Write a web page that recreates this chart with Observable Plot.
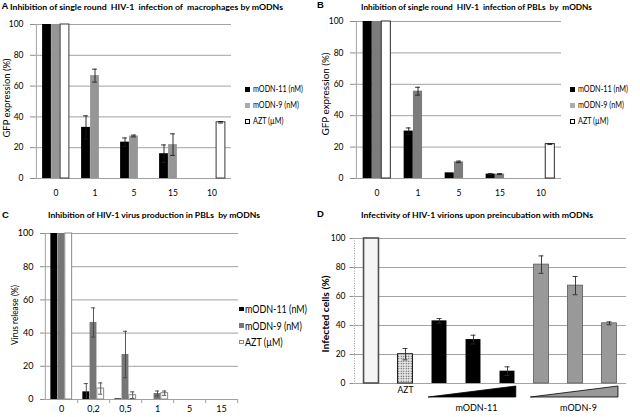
<!DOCTYPE html>
<html><head><meta charset="utf-8">
<script src="https://cdn.jsdelivr.net/npm/d3@7"></script>
<script src="https://cdn.jsdelivr.net/npm/@observablehq/plot@0.6"></script>
<style>
html,body{margin:0;padding:0;background:#fff;}
#fig{position:relative;width:640px;height:417px;overflow:hidden;font-family:Lato,"Liberation Sans",sans-serif;color:#000;}
.panel{position:absolute;}
.panel svg{display:block;overflow:visible;}
.t{position:absolute;white-space:pre;line-height:1;color:#000;}
.sw{position:absolute;box-sizing:border-box;}
svg [aria-label="y-axis"] .tick line{stroke:#8c8c8c;}
svg [aria-label="y-axis tick"]{stroke:#8c8c8c;}
</style></head><body><div id="fig"></div>
<script>
// ---------- DATA ----------
const yTicks = [0, 20, 40, 60, 80, 100];
const seriesNames = ["mODN-11 (nM)", "mODN-9 (nM)", "AZT (µM)"];

// Panel A
const catsA = ["0", "1", "5", "15", "10"];
const a_mODN11 = [100, 33.2, 23.6, 16.1, null];
const a_mODN11_err = [0, 7.5, 2.7, 5.7, null];
const a_mODN9 = [100, 66.8, 27.6, 22.0, null];
const a_mODN9_err = [0, 4.2, 0.6, 7.0, null];
const a_AZT = [100, null, null, null, 36.5];
const a_AZT_err = [0, null, null, null, 0.5];

// Panel B
const catsB = ["0", "1", "5", "15", "10"];
const b_mODN11 = [100, 30.2, 3.6, 2.8, null];
const b_mODN11_err = [0, 2.0, 0, 0.3, null];
const b_mODN9 = [100, 55.6, 10.6, 2.8, null];
const b_mODN9_err = [0, 2.5, 0.5, 0.3, null];
const b_AZT = [100, null, null, null, 21.9];
const b_AZT_err = [0, null, null, null, 0.3];

// Panel C
const catsC = ["0", "0,2", "0,5", "1", "5", "15"];
const c_mODN11 = [100, 4.6, 0.4, 0, 0, 0];
const c_mODN11_err = [0, 5.0, 0, 0, 0, 0];
const c_mODN9 = [100, 46.4, 27.1, 3.6, 0, 0];
const c_mODN9_err = [0, 8.8, 14.0, 1.5, 0, 0];
const c_AZT = [100, 6.6, 2.6, 3.8, 0, 0];
const c_AZT_err = [0, 3.4, 2.0, 1.3, 0, 0];

// Panel D
const dBars = ["control", "AZT", "m11-1", "m11-2", "m11-3", "m9-1", "m9-2", "m9-3"];
const dGroups = ["control", "AZT", "mODN-11", "mODN-11", "mODN-11", "mODN-9", "mODN-9", "mODN-9"];
const dValues = [100, 20.2, 43.2, 30.3, 8.5, 82.0, 67.5, 41.5];
const dErrs = [0, 3.9, 1.6, 3.0, 3.0, 6.0, 6.3, 1.0];
const dTickLabels = ["", "AZT", "", "", "", "", "", ""];
const dWedgeGroups = ["mODN-11", "mODN-9"];

// Titles
const titles = {
  A: "Inhibition of single round  HIV-1  infection of  macrophages by mODNs",
  B: "Inhibition of single round  HIV-1  infection of PBLs  by  mODNs",
  C: "Inhibition of HIV-1 virus production in PBLs  by mODNs",
  D: "Infectivity of HIV-1 virions upon preincubation with mODNs"
};
const yTitles = {A: "GFP expression (%)", B: "GFP expression (%)", C: "Virus release (%)", D: "Infected cells (%)"};

// ---------- HELPERS ----------
const fig = document.getElementById("fig");
const FONT = 'Lato,"Liberation Sans",sans-serif';

function addText(txt, o) {
  const el = document.createElement("div");
  el.className = "t";
  el.textContent = txt;
  const size = o.size || 8;
  el.style.fontSize = size + "px";
  el.style.fontWeight = o.weight || "normal";
  if (o.family) el.style.fontFamily = o.family;
  fig.appendChild(el);
  let k = 1;
  if (o.fitW) {
    const w = el.getBoundingClientRect().width;
    k = o.fitW / w;
  }
  el.style.left = o.x + "px";
  el.style.top = o.y + "px";
  if (o.rotate) {
    el.style.transform = `translate(-50%,-50%) rotate(-90deg) scaleX(${k})`;
  } else if (o.anchor === "middle") {
    el.style.transform = `translate(-50%,-50%) scaleX(${k})`;
  } else {
    el.style.transformOrigin = "0 50%";
    el.style.transform = `translate(0,-50%) scaleX(${k})`;
  }
  return k;
}

function legend(items, o) {
  let k = null;
  items.forEach((it, i) => {
    const cy = o.y0 + i * o.dy;
    const sw = document.createElement("div");
    sw.className = "sw";
    sw.style.left = o.swX + "px";
    sw.style.top = (cy - o.sw / 2) + "px";
    sw.style.width = o.sw + "px";
    sw.style.height = o.sw + "px";
    sw.style.background = it.fill;
    if (it.stroke) sw.style.border = "1px solid " + it.stroke;
    fig.appendChild(sw);
    const el = document.createElement("div");
    el.className = "t";
    el.textContent = it.name;
    el.style.fontSize = o.size + "px";
    fig.appendChild(el);
    if (k == null) k = o.fitW / el.getBoundingClientRect().width;
    el.style.left = o.textX + "px";
    el.style.top = cy + "px";
    el.style.transformOrigin = "0 50%";
    el.style.transform = `translate(0,-50%) scaleX(${k})`;
  });
}

function mount(el, left, top) {
  const d = document.createElement("div");
  d.className = "panel";
  d.style.left = left + "px";
  d.style.top = top + "px";
  d.appendChild(el);
  fig.appendChild(d);
}

function groupedPanel(c) {
  const bw = (c.width - c.ml - c.mr) / c.cats.length;
  const inset = (bw - c.barW) / 2;
  const capInset = (bw - c.capW) / 2;
  const n = c.series.length;
  const marks = [Plot.ruleY(yTicks, {stroke: c.grid, strokeWidth: 1})];
  const rowsOf = s => c.cats.map((cat, j) => ({cat, v: s.values[j], e: s.errs[j]}))
    .filter(d => d.v != null && d.v > 0);
  c.series.forEach((s, i) => {
    const dx = (i - (n - 1) / 2) * c.barW;
    marks.push(Plot.barY(rowsOf(s), {x: "cat", y: "v", fill: s.fill, stroke: s.stroke || "none",
      strokeWidth: s.strokeWidth || 1, insetLeft: inset, insetRight: inset, dx}));
  });
  c.series.forEach((s, i) => {
    const dx = (i - (n - 1) / 2) * c.barW;
    const er = rowsOf(s).filter(d => d.e > 0);
    marks.push(Plot.ruleX(er, {x: "cat", y1: d => Math.max(0, d.v - d.e), y2: d => d.v + d.e, dx, stroke: c.errStroke, strokeWidth: 0.9}));
    marks.push(Plot.tickY(er, {x: "cat", y: d => d.v + d.e, dx, insetLeft: capInset, insetRight: capInset, stroke: c.errStroke, strokeWidth: 0.9}));
    marks.push(Plot.tickY(er.filter(d => d.v - d.e > 0), {x: "cat", y: d => d.v - d.e, dx, insetLeft: capInset, insetRight: capInset, stroke: c.errStroke, strokeWidth: 0.9}));
  });
  marks.push(Plot.ruleX([c.cats[0]], {x: d => d, dx: -bw / 2, stroke: c.grid}));
  if (c.bounds) marks.push(Plot.ruleX(c.cats, {x: d => d, y1: 0, y2: 0, dx: bw / 2, insetBottom: -4, stroke: c.grid}));
  const chart = Plot.plot({
    width: c.width, height: c.height,
    marginLeft: c.ml, marginRight: c.mr, marginTop: c.mt, marginBottom: c.mb,
    x: {domain: c.cats, padding: 0, tickSize: 0, tickPadding: c.xPad, label: null},
    y: {domain: [0, 100], ticks: yTicks, tickSize: c.yTick, tickPadding: c.yPad, label: null},
    style: {fontFamily: FONT, fontSize: c.fontSize + "px", color: "#000", background: "transparent"},
    marks
  });
  mount(chart, c.left, c.top);
  return chart;
}

// ---------- PANEL A ----------
groupedPanel({
  cats: catsA, left: 0, top: 0, width: 320, height: 205, ml: 35, mr: 89, mt: 24, mb: 27,
  barW: 9, capW: 5, grid: "#a3a3a3", errStroke: "#1a1a1a", yTick: 5, yPad: 7, xPad: 11, fontSize: 8.5,
  series: [
    {name: seriesNames[0], values: a_mODN11, errs: a_mODN11_err, fill: "#000"},
    {name: seriesNames[1], values: a_mODN9, errs: a_mODN9_err, fill: "#969696"},
    {name: seriesNames[2], values: a_AZT, errs: a_AZT_err, fill: "#fff", stroke: "#3a3a3a"}
  ]
});
// ---------- PANEL B ----------
groupedPanel({
  cats: catsB, left: 320, top: 0, width: 320, height: 205, ml: 35, mr: 79, mt: 21, mb: 27,
  barW: 9.3, capW: 5, grid: "#a3a3a3", errStroke: "#1a1a1a", yTick: 5, yPad: 7, xPad: 11, fontSize: 8.5,
  series: [
    {name: seriesNames[0], values: b_mODN11, errs: b_mODN11_err, fill: "#000"},
    {name: seriesNames[1], values: b_mODN9, errs: b_mODN9_err, fill: "#7c7c7c"},
    {name: seriesNames[2], values: b_AZT, errs: b_AZT_err, fill: "#fff", stroke: "#2a2a2a"}
  ]
});
// ---------- PANEL C ----------
groupedPanel({
  cats: catsC, left: 0, top: 205, width: 320, height: 212, ml: 44, mr: 82, mt: 28, mb: 18,
  barW: 7.2, capW: 4.5, grid: "#a0a0a0", errStroke: "#444", yTick: 4, yPad: 7, xPad: 6, fontSize: 9,
  bounds: true,
  series: [
    {name: seriesNames[0], values: c_mODN11, errs: c_mODN11_err, fill: "#000"},
    {name: seriesNames[1], values: c_mODN9, errs: c_mODN9_err, fill: "#767676"},
    {name: seriesNames[2], values: c_AZT, errs: c_AZT_err, fill: "#fff", stroke: "#8a8a8a"}
  ]
});

// ---------- PANEL D ----------
(function () {
  const width = 320, height = 212, ml = 33.5, mr = 14, mt = 33, mb = 34;
  const bw = (width - ml - mr) / dBars.length;
  const barW = 15, inset = (bw - barW) / 2, capInset = (bw - 5) / 2;
  const rows = dBars.map((b, i) => ({bar: b, group: dGroups[i], v: dValues[i], e: dErrs[i]}));
  const styles = {
    "control": {fill: "#f5f5f5", stroke: "#505050", strokeWidth: 1.6},
    "AZT": {fill: "url(#dotsD)", stroke: "#1a1a1a", strokeWidth: 1},
    "mODN-11": {fill: "#000", stroke: "none", strokeWidth: 0},
    "mODN-9": {fill: "#999", stroke: "#5a5a5a", strokeWidth: 0.8}
  };
  const grid = "#a3a3a3";
  const marks = [Plot.ruleY(yTicks, {stroke: grid})];
  Object.keys(styles).forEach(g => {
    marks.push(Plot.barY(rows.filter(d => d.group === g), {x: "bar", y: "v", insetLeft: inset, insetRight: inset, ...styles[g]}));
  });
  const er = rows.filter(d => d.e > 0);
  marks.push(Plot.ruleX(er, {x: "bar", y1: d => d.v - d.e, y2: d => d.v + d.e, stroke: "#2a2a2a", strokeWidth: 0.9}));
  marks.push(Plot.tickY(er, {x: "bar", y: d => d.v + d.e, insetLeft: capInset, insetRight: capInset, stroke: "#2a2a2a", strokeWidth: 0.9}));
  marks.push(Plot.tickY(er, {x: "bar", y: d => d.v - d.e, insetLeft: capInset, insetRight: capInset, stroke: "#2a2a2a", strokeWidth: 0.9}));
  marks.push(Plot.ruleX([dBars[0]], {x: d => d, dx: -bw / 2, stroke: "#9a9a9a", strokeDasharray: "1,1.5"}));
  const gl = dWedgeGroups.map(g => ({g, bar: dBars.filter((b, i) => dGroups[i] === g)[1]}));
  marks.push(Plot.text(gl, {x: "bar", y: 0, text: "g", dy: 25, dx: 3, fontSize: 9}));
  const chart = Plot.plot({
    width, height, marginLeft: ml, marginRight: mr, marginTop: mt, marginBottom: mb,
    x: {domain: dBars, padding: 0, tickSize: 0, tickPadding: 3, label: null, tickFormat: d => dTickLabels[dBars.indexOf(d)]},
    y: {domain: [0, 100], ticks: yTicks, tickSize: 4, tickPadding: 4.5, label: null},
    style: {fontFamily: FONT, fontSize: "8.5px", color: "#000", background: "transparent"},
    marks
  });
  // pattern + wedges from the chart's scales
  const svg = d3.select(chart.tagName.toLowerCase() === "svg" ? chart : chart.querySelector("svg"));
  const defs = svg.insert("defs", ":first-child");
  const pat = defs.append("pattern").attr("id", "dotsD").attr("width", 2.5).attr("height", 2.5).attr("patternUnits", "userSpaceOnUse");
  pat.append("rect").attr("width", 2.5).attr("height", 2.5).attr("fill", "#e6e6e6");
  pat.append("circle").attr("cx", 1.25).attr("cy", 1.25).attr("r", 0.6).attr("fill", "#333");
  const xs = chart.scale("x"), ys = chart.scale("y");
  const X = d3.scaleBand().domain(xs.domain).range(xs.range).paddingInner(xs.paddingInner || 0).paddingOuter(xs.paddingOuter || 0).align(xs.align ?? 0.5);
  const Y = d3.scaleLinear().domain(ys.domain).range(ys.range);
  const y0 = Y(0);
  const wedgeFill = {"mODN-11": "#000", "mODN-9": "#999"};
  dWedgeGroups.forEach(g => {
    const bars = dBars.filter((b, i) => dGroups[i] === g);
    const x0 = X(bars[0]) + inset - 3;
    const x1 = X(bars[bars.length - 1]) + X.bandwidth() - inset + 1.5;
    svg.append("polygon")
      .attr("points", [[x0, y0 + 14], [x1, y0 + 3], [x1, y0 + 14]].map(p => p.join(",")).join(" "))
      .attr("fill", wedgeFill[g]).attr("stroke", "#000").attr("stroke-width", 0.8);
  });
  mount(chart, 320, 205);
})();

// ---------- TEXT: letters, titles, y titles, legends ----------
const LB = '"Liberation Sans",Arial,sans-serif';
addText("A", {x: 1.5, y: 6, size: 9.5, weight: "bold", family: LB});
addText("B", {x: 317, y: 5, size: 9.5, weight: "bold", family: LB});
addText("C", {x: 2, y: 215, size: 9.5, weight: "bold", family: LB});
addText("D", {x: 317, y: 214, size: 9.5, weight: "bold", family: LB});

addText(titles.A, {x: 9.5, y: 6.5, size: 8.2, weight: "bold", fitW: 273});
addText(titles.B, {x: 361, y: 6.5, size: 8.2, weight: "bold", fitW: 231});
addText(titles.C, {x: 48, y: 215, size: 8.2, weight: "bold", fitW: 212});
addText(titles.D, {x: 361, y: 215, size: 8.2, weight: "bold", fitW: 232});

addText(yTitles.A, {x: 7, y: 98, size: 9.2, rotate: true, fitW: 79});
addText(yTitles.B, {x: 326, y: 94, size: 9.2, rotate: true, fitW: 83});
addText(yTitles.C, {x: 15, y: 315, size: 9.2, rotate: true, fitW: 60});
addText(yTitles.D, {x: 326, y: 314, size: 9.2, weight: "bold", rotate: true, fitW: 77});

legend([
  {name: seriesNames[0], fill: "#000"},
  {name: seriesNames[1], fill: "#ababab"},
  {name: seriesNames[2], fill: "#fff", stroke: "#000"}
], {swX: 245, textX: 253, y0: 89, dy: 16, sw: 5, size: 9.5, fitW: 50});
legend([
  {name: seriesNames[0], fill: "#000"},
  {name: seriesNames[1], fill: "#ababab"},
  {name: seriesNames[2], fill: "#fff", stroke: "#000"}
], {swX: 570, textX: 578, y0: 89, dy: 16, sw: 5, size: 9.5, fitW: 50});
legend([
  {name: seriesNames[0], fill: "#000"},
  {name: seriesNames[1], fill: "#767676"},
  {name: seriesNames[2], fill: "#fff", stroke: "#8a8a8a"}
], {swX: 239, textX: 244.5, y0: 309, dy: 16.5, sw: 4.5, size: 10.5, fitW: 62});
</script></body></html>
